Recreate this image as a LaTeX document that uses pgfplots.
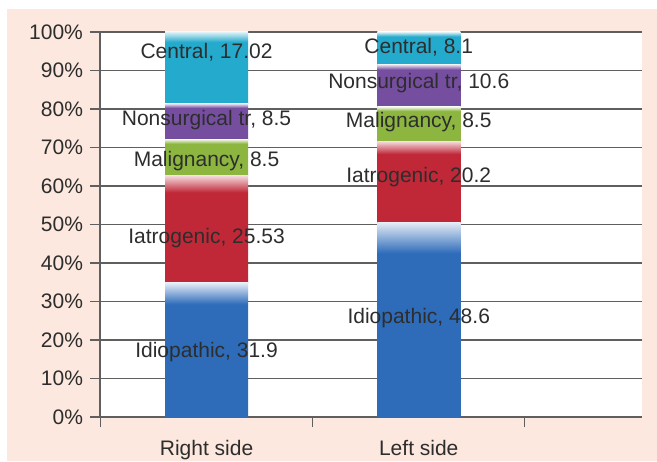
\documentclass[border=0pt]{standalone}
\usepackage{fontspec}
\setmainfont{Liberation Sans}
\usepackage{pgfplots}
\pgfplotsset{compat=1.18}

\definecolor{cBlue}{RGB}{46,108,186}
\definecolor{cRed}{RGB}{192,40,56}
\definecolor{cGreen}{RGB}{140,182,64}
\definecolor{cPurple}{RGB}{118,78,160}
\definecolor{cCyan}{RGB}{36,170,204}
\definecolor{peach}{RGB}{252,232,222}
\definecolor{gridgray}{RGB}{95,95,95}
\definecolor{txtgray}{RGB}{45,45,45}

% solid colour with a light fade at the top of each segment
\pgfdeclareverticalshading{sBlue}{100bp}{color(0bp)=(cBlue); color(67bp)=(cBlue); color(75bp)=(cBlue!12!white); color(100bp)=(cBlue!12!white)}
\pgfdeclareverticalshading{sRed}{100bp}{color(0bp)=(cRed); color(67bp)=(cRed); color(75bp)=(cRed!15!white); color(100bp)=(cRed!15!white)}
\pgfdeclareverticalshading{sGreen}{100bp}{color(0bp)=(cGreen); color(69bp)=(cGreen); color(75bp)=(cGreen!15!white); color(100bp)=(cGreen!15!white)}
\pgfdeclareverticalshading{sPurple}{100bp}{color(0bp)=(cPurple); color(69bp)=(cPurple); color(75bp)=(cPurple!15!white); color(100bp)=(cPurple!15!white)}
\pgfdeclareverticalshading{sCyan}{100bp}{color(0bp)=(cCyan); color(68bp)=(cCyan); color(75bp)=(cCyan!15!white); color(100bp)=(cCyan!15!white)}

\pgfplotsset{
  barax/.style={
    at={(50pt,22pt)}, anchor=south west,
    scale only axis, width=271pt, height=192.5pt,
    xmin=-0.502, xmax=2.052, ymin=0, ymax=100,
    ybar stacked, bar width=0.391,
    every axis plot/.append style={draw=none, shade},
  },
}
\tikzset{lbl/.style={font=\fontsize{10.5}{12}\selectfont, text=txtgray, inner sep=0pt}}

\begin{document}
\begin{tikzpicture}
\useasboundingbox (0,0) rectangle (328.5pt,230.5pt);
\fill[white] (0,0) rectangle (328.5pt,230.5pt);
\fill[peach] (3.5pt,0) rectangle (328.5pt,226pt);

% Right side (shares of 91.45 = 31.9+25.53+8.5+8.5+17.02)
\begin{axis}[barax,
    axis background/.style={fill=white},
    axis lines*=left, axis line style={draw=gridgray, line width=0.6pt},
    ymajorgrids, grid style={draw=gridgray, line width=0.6pt},
    tick align=outside, major tick length=5pt,
    ytick={0,10,...,100},
    yticklabel={\pgfmathprintnumber[assume math mode=true]{\tick}\%},
    ytick style={draw=gridgray, line width=0.6pt},
    xtick={0,1}, xticklabels={Right side,Left side},
    xtick style={draw=none},
    extra x ticks={-0.5,0.5,1.5}, extra x tick labels={},
    extra x tick style={grid=none, xtick style={draw=gridgray, line width=0.6pt}},
    tick label style={font=\fontsize{10.5}{12}\selectfont, text=txtgray},
    xticklabel style={yshift=-3pt},
  ]
  \addplot[shading=sBlue]   coordinates {(0,34.882)};
  \addplot[shading=sRed]    coordinates {(0,27.917)};
  \addplot[shading=sGreen]  coordinates {(0,9.295)};
  \addplot[shading=sPurple] coordinates {(0,9.295)};
  \addplot[shading=sCyan]   coordinates {(0,18.611)};
\end{axis}

% Left side (shares of 96.0 = 48.6+20.2+8.5+10.6+8.1)
\begin{axis}[barax, hide axis]
  \addplot[shading=sBlue]   coordinates {(1,50.625)};
  \addplot[shading=sRed]    coordinates {(1,21.042)};
  \addplot[shading=sGreen]  coordinates {(1,8.854)};
  \addplot[shading=sPurple] coordinates {(1,11.042)};
  \addplot[shading=sCyan]   coordinates {(1,8.438)};

  \coordinate (r5) at (0,94.8);
  \coordinate (r4) at (0,77.1);
  \coordinate (r3) at (0,66.5);
  \coordinate (r2) at (0,46.5);
  \coordinate (r1) at (0,16.9);
  \coordinate (l5) at (1,96.1);
  \coordinate (l4) at (1,86.8);
  \coordinate (l3) at (1,76.6);
  \coordinate (l2) at (1,62.3);
  \coordinate (l1) at (1,25.7);
\end{axis}

\node[lbl] at (r5) {Central, 17.02};
\node[lbl] at (r4) {Nonsurgical tr, 8.5};
\node[lbl] at (r3) {Malignancy, 8.5};
\node[lbl] at (r2) {Iatrogenic, 25.53};
\node[lbl] at (r1) {Idiopathic, 31.9};

\node[lbl] at (l5) {Central, 8.1};
\node[lbl] at (l4) {Nonsurgical tr, 10.6};
\node[lbl] at (l3) {Malignancy, 8.5};
\node[lbl] at (l2) {Iatrogenic, 20.2};
\node[lbl] at (l1) {Idiopathic, 48.6};
\end{tikzpicture}
\end{document}
